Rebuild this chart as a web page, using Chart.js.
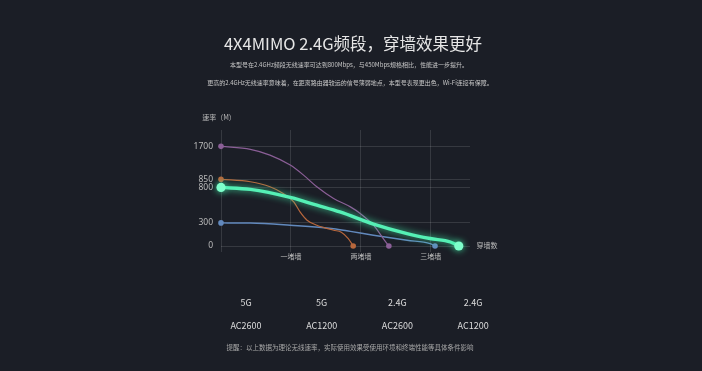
<!DOCTYPE html>
<html>
<head>
<meta charset="utf-8">
<script src="https://cdn.jsdelivr.net/npm/chart.js@4.4.0/dist/chart.umd.min.js"></script>
<style>
html, body { margin: 0; padding: 0; background: #1b1e26; width: 702px; height: 371px; overflow: hidden; }
body { font-family: "Noto Sans CJK SC", "Noto Sans", sans-serif; }
#wrap { position: relative; width: 702px; height: 371px; }
canvas { position: absolute; left: 0; top: 0; }
.t { position: absolute; white-space: nowrap; transform: translate(-50%, -50%); line-height: 1; }
</style>
</head>
<body>
<div id="wrap">
  <canvas id="chart" width="702" height="371"></canvas>
  <div class="t" style="left:353px;top:43px;font-size:16.5px;color:#e6e6e6;">4X4MIMO 2.4G频段，穿墙效果更好</div>
  <div class="t" style="left:349px;top:65px;font-size:6px;color:#c8c8c8;">本型号在2.4GHz频段无线速率可达到800Mbps，与450Mbps规格相比，性能进一步提升。</div>
  <div class="t" style="left:350px;top:83px;font-size:6px;color:#c8c8c8;">更高的2.4GHz无线速率意味着，在距离路由器较远的信号薄弱地点，本型号表现更出色，Wi-Fi连接有保障。</div>
  <div class="t" style="left:219px;top:117px;font-size:7px;color:#bbbbbb;">速率（M）</div>
  <div class="t" style="left:487px;top:245px;font-size:7px;color:#bbbbbb;">穿墙数</div>
  <div class="t" style="left:350px;top:347px;font-size:6.5px;color:#a8a8a8;">提醒：以上数据为理论无线速率，实际使用效果受使用环境和终端性能等具体条件影响</div>
</div>
<script>
// 数据
const wallLabels = ['', '一堵墙', '两堵墙', '三堵墙'];
const rateTicks = [0, 300, 800, 850, 1700];
const bands = ['5G', '5G', '2.4G', '2.4G'];
const models = ['AC2600', 'AC1200', 'AC2600', 'AC1200'];

const wallsA = [0, 0.42, 0.7, 0.99, 1.18, 1.37, 1.61, 1.85, 1.99, 2.18, 2.32, 2.4];
const rateA = [1700, 1622, 1475, 1217, 958, 804, 645, 526, 433, 270, 97, 0];
const wallsB = [0, 0.42, 0.7, 0.89, 1.04, 1.13, 1.23, 1.37, 1.61, 1.72, 1.82, 1.89];
const rateB = [850, 835, 804, 715, 597, 455, 338, 270, 205, 180, 97, 0];
const wallsC = [0, 0.42, 0.99, 1.37, 1.7, 2.18, 2.66, 2.99, 3.28, 3.4];
const rateC = [800, 772, 659, 550, 455, 285, 162, 97, 52, 0];
const wallsD = [0, 0.42, 0.99, 1.61, 1.85, 2.18, 2.66, 2.99, 3.06];
const rateD = [300, 298, 270, 225, 190, 140, 74, 31, 0];

// 纵轴不是等比例的，分段映射
const yStops = [[0, 0], [300, 0.199], [800, 0.505], [850, 0.575], [1700, 0.859], [1950, 1]];

function toFrac(v) {
  for (let i = 1; i < yStops.length; i++) {
    const [v0, f0] = yStops[i - 1];
    const [v1, f1] = yStops[i];
    if (v <= v1 || i === yStops.length - 1) return f0 + (v - v0) / (v1 - v0) * (f1 - f0);
  }
}
function fromFrac(f) {
  for (let i = 1; i < yStops.length; i++) {
    const [v0, f0] = yStops[i - 1];
    const [v1, f1] = yStops[i];
    if (f <= f1 || i === yStops.length - 1) return v0 + (f - f0) / (f1 - f0) * (v1 - v0);
  }
}

class PiecewiseScale extends Chart.LinearScale {
  getPixelForValue(value) {
    return this.getPixelForDecimal(toFrac(value));
  }
  getValueForPixel(pixel) {
    return fromFrac(this.getDecimalForPixel(pixel));
  }
}
PiecewiseScale.id = 'piecewise';
PiecewiseScale.defaults = Chart.LinearScale.defaults;
Chart.register(PiecewiseScale);

// 底部说明
const wrap = document.getElementById('wrap');
bands.forEach((b, i) => {
  const x = 246 + i * 75.7;
  const d1 = document.createElement('div');
  d1.className = 't';
  d1.style.cssText = `left:${x}px;top:302px;font-size:9px;color:#dddddd;`;
  d1.innerText = b;
  wrap.appendChild(d1);
  const d2 = document.createElement('div');
  d2.className = 't';
  d2.style.cssText = `left:${x}px;top:325px;font-size:9px;color:#dddddd;`;
  d2.innerText = models[i];
  wrap.appendChild(d2);
});

function toPoints(xs, ys) {
  return xs.map((x, i) => ({ x: x, y: ys[i] }));
}
function endRadius(arr, r) {
  return arr.map((_, i) => (i === 0 || i === arr.length - 1) ? r : 0);
}

const glow = {
  id: 'glow',
  beforeDatasetDraw(chart, args) {
    if (args.index !== 2) return;
    const ctx = chart.ctx;
    ctx.save();
    ctx.shadowColor = 'rgba(70, 255, 180, 0.8)';
    ctx.shadowBlur = 7;
  },
  afterDatasetDraw(chart, args) {
    if (args.index !== 2) return;
    chart.ctx.restore();
  }
};

const grid = 'rgba(255, 255, 255, 0.12)';

new Chart(document.getElementById('chart'), {
  type: 'line',
  data: {
    datasets: [
      {
        label: bands[0] + ' ' + models[0],
        data: toPoints(wallsA, rateA),
        borderColor: '#8b5f97',
        backgroundColor: '#8b5f97',
        borderWidth: 1.2,
        pointRadius: endRadius(wallsA, 2.8),
        order: 1
      },
      {
        label: bands[1] + ' ' + models[1],
        data: toPoints(wallsB, rateB),
        borderColor: '#b8673c',
        backgroundColor: '#b8673c',
        borderWidth: 1.2,
        pointRadius: endRadius(wallsB, 2.8),
        order: 1
      },
      {
        label: bands[2] + ' ' + models[2],
        data: toPoints(wallsC, rateC),
        borderColor: '#55f0b5',
        backgroundColor: '#7effcb',
        borderWidth: 3.4,
        pointRadius: endRadius(wallsC, 4.6),
        order: 0
      },
      {
        label: bands[3] + ' ' + models[3],
        data: toPoints(wallsD, rateD),
        borderColor: '#6289bd',
        backgroundColor: '#6289bd',
        borderWidth: 1.4,
        pointRadius: endRadius(wallsD, 2.8),
        order: 1
      }
    ]
  },
  options: {
    responsive: false,
    animation: false,
    clip: false,
    datasets: { line: { cubicInterpolationMode: 'monotone', pointBorderWidth: 0, clip: false } },
    layout: { padding: { left: 191, top: 130, right: 232, bottom: 105 } },
    plugins: { legend: { display: false }, tooltip: { enabled: false } },
    scales: {
      x: {
        type: 'linear',
        min: 0,
        max: 3.56,
        afterBuildTicks: (axis) => { axis.ticks = wallLabels.map((_, i) => ({ value: i })); },
        afterFit: (axis) => { axis.height = 20; },
        ticks: {
          autoSkip: false,
          maxRotation: 0,
          padding: 0,
          color: '#bbbbbb',
          font: { size: 7, family: '"Noto Sans CJK SC", sans-serif' },
          callback: (v, i) => wallLabels[i]
        },
        grid: { color: grid, tickColor: grid, tickLength: 6 },
        border: { display: false }
      },
      y: {
        type: 'piecewise',
        min: 0,
        max: 1950,
        afterBuildTicks: (axis) => { axis.ticks = rateTicks.map(v => ({ value: v })); },
        afterFit: (axis) => { axis.width = 30; },
        ticks: {
          padding: 8,
          color: '#bbbbbb',
          font: { size: 8.5, family: '"Noto Sans", sans-serif' },
          callback: (v) => String(v)
        },
        grid: { color: grid, drawTicks: false },
        border: { display: false }
      }
    }
  },
  plugins: [glow]
});
</script>
</body>
</html>
